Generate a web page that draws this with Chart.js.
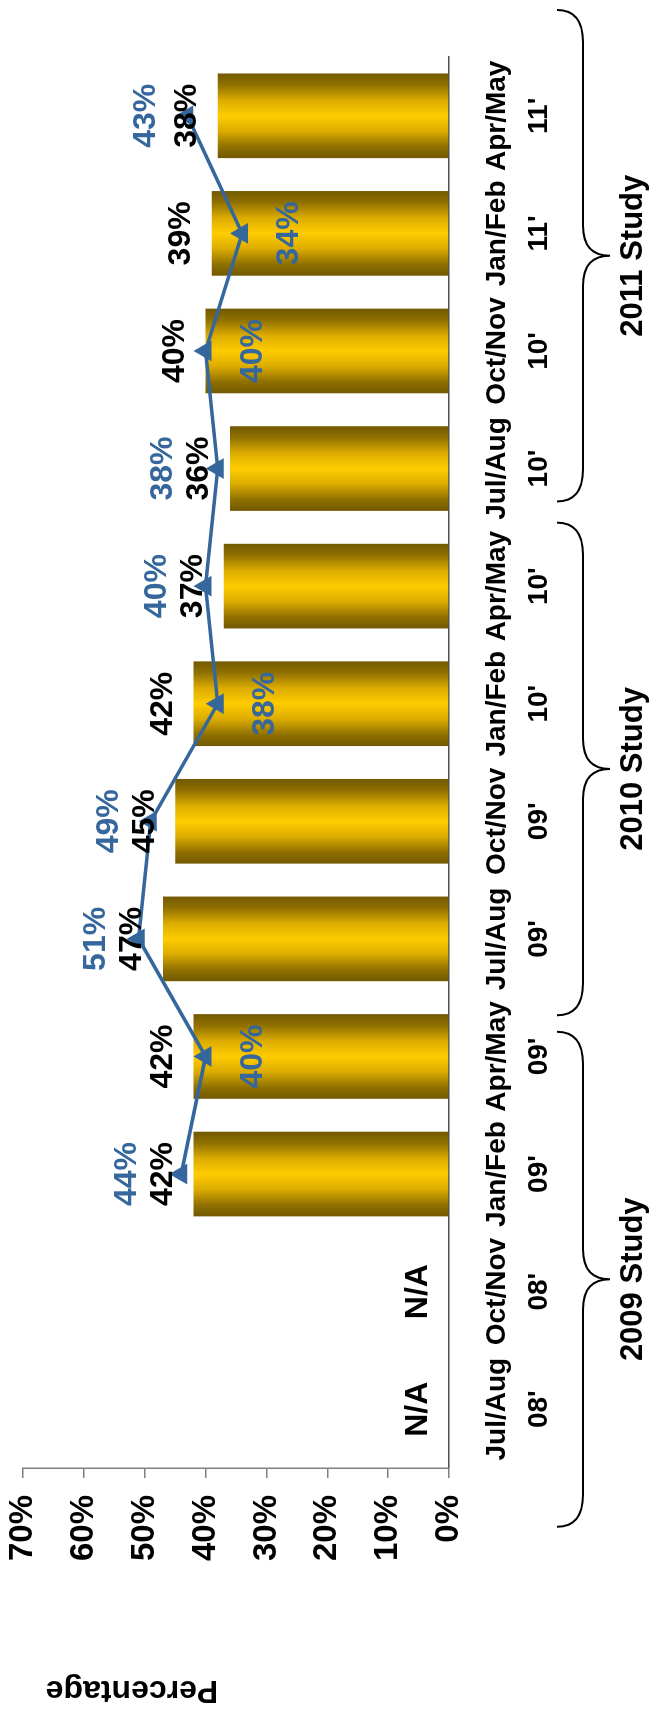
<!DOCTYPE html>
<html>
<head>
<meta charset="utf-8">
<title>Percentage by survey period</title>
<script src="https://cdn.jsdelivr.net/npm/chart.js@4.4.1/dist/chart.umd.min.js"></script>
<style>
  html, body { margin: 0; padding: 0; background: #fff; overflow: hidden; }
  body { width: 658px; height: 1718px; position: relative; }
  /* the chart is laid out landscape and turned a quarter turn to fit the page */
  #wrap {
    position: absolute; left: 0; top: 0;
    width: 1718px; height: 658px;
    transform-origin: 0 0;
    transform: translate(0, 1718px) rotate(-90deg);
  }
</style>
</head>
<body>
<div id="wrap"><canvas id="studyChart" width="1718" height="658"></canvas></div>
<script>
// survey periods and their years
const periods = ['Jul/Aug', 'Oct/Nov', 'Jan/Feb', 'Apr/May', 'Jul/Aug', 'Oct/Nov',
                 'Jan/Feb', 'Apr/May', 'Jul/Aug', 'Oct/Nov', 'Jan/Feb', 'Apr/May'];
const years = ["08'", "08'", "09'", "09'", "09'", "09'", "10'", "10'", "10'", "10'", "11'", "11'"];

// bar series (null = no data, shown as N/A)
const barValues = [null, null, 42, 42, 47, 45, 42, 37, 36, 40, 39, 38];
// line series
const lineValues = [null, null, 44, 40, 51, 49, 38, 40, 38, 40, 34, 43];

const yTicks = [0, 10, 20, 30, 40, 50, 60, 70];

// where each line label sits relative to its point
const lineLabelSide = [null, null, 'above', 'below', 'above', 'above', 'below', 'above', 'above', 'below', 'below', 'above'];

// study brackets, spans given as category index positions
const studyGroups = [
  { label: '2009 Study', from: -1.0, to: 3.21 },
  { label: '2010 Study', from: 3.35, to: 7.54 },
  { label: '2011 Study', from: 7.72, to: 11.9 }
];

const FONT = '"Liberation Sans", Arial, Helvetica, sans-serif';
const BLUE = '#35679c';

Chart.defaults.font.family = FONT;
Chart.defaults.font.weight = 'bold';
Chart.defaults.color = '#000';

function barGradient(c) {
  const chart = c.chart;
  if (!chart.chartArea || c.dataIndex === undefined) return '#ffcc00';
  const xs = chart.scales.x;
  const cx = xs.getPixelForValue(c.dataIndex);
  const half = xs.width / periods.length * 0.72 / 2;
  const g = chart.ctx.createLinearGradient(cx - half, 0, cx + half, 0);
  g.addColorStop(0, '#725900');
  g.addColorStop(0.13, '#8e6f00');
  g.addColorStop(0.32, '#dcac00');
  g.addColorStop(0.5, '#ffcc00');
  g.addColorStop(0.68, '#dcac00');
  g.addColorStop(0.87, '#8e6f00');
  g.addColorStop(1, '#725900');
  return g;
}

// value labels, study brackets and the axis title
const overlay = {
  id: 'overlay',
  afterDatasetsDraw(chart) {
    const { ctx, scales: { x, y } } = chart;
    const capHalf = 0.716 * 32 / 2;
    ctx.save();
    ctx.textAlign = 'center';
    ctx.textBaseline = 'alphabetic';
    ctx.font = 'bold 32px ' + FONT;
    periods.forEach((p, i) => {
      const cx = x.getPixelForValue(i);
      const bv = barValues[i];
      const top = y.getPixelForValue(bv === null ? 0 : bv);
      const blackMid = top - 33;
      ctx.fillStyle = '#000';
      ctx.fillText(bv === null ? 'N/A' : bv + '%', cx, blackMid + capHalf);
      const lv = lineValues[i];
      if (lv === null) return;
      const py = y.getPixelForValue(lv);
      const mid = lineLabelSide[i] === 'below' ? py + 44.5 : Math.min(py - 44, blackMid - 36);
      ctx.fillStyle = BLUE;
      ctx.fillText(lv + '%', cx, mid + capHalf);
    });

    // brackets under the period labels
    const base = chart.chartArea.bottom;
    const yEnd = base + 108, ySpine = base + 134, yTip = base + 161;
    ctx.strokeStyle = '#000';
    ctx.lineWidth = 2;
    ctx.fillStyle = '#000';
    ctx.font = 'bold 31px ' + FONT;
    studyGroups.forEach(g => {
      const x1 = x.getPixelForValue(g.from);
      const x2 = x.getPixelForValue(g.to);
      const xc = (x1 + x2) / 2;
      ctx.beginPath();
      ctx.moveTo(x1, yEnd);
      ctx.quadraticCurveTo(x1, ySpine, x1 + 32, ySpine);
      ctx.lineTo(xc - 30, ySpine);
      ctx.quadraticCurveTo(xc, ySpine, xc, yTip);
      ctx.quadraticCurveTo(xc, ySpine, xc + 30, ySpine);
      ctx.lineTo(x2 - 32, ySpine);
      ctx.quadraticCurveTo(x2, ySpine, x2, yEnd);
      ctx.stroke();
      ctx.fillText(g.label, xc, base + 193);
    });

    // value axis title
    ctx.font = 'bold 32px ' + FONT;
    ctx.translate(37, 132);
    ctx.rotate(-Math.PI / 2);
    ctx.fillText('Percentage', 0, 0);
    ctx.restore();
  }
};

new Chart(document.getElementById('studyChart'), {
  type: 'bar',
  data: {
    labels: periods.map((p, i) => [p, years[i]]),
    datasets: [
      {
        type: 'line',
        label: 'Line',
        data: lineValues,
        order: 0,
        borderColor: BLUE,
        borderWidth: 3.5,
        tension: 0,
        spanGaps: false,
        pointStyle: 'triangle',
        pointRadius: 12,
        pointBackgroundColor: BLUE,
        pointBorderColor: BLUE,
        pointBorderWidth: 0
      },
      {
        type: 'bar',
        label: 'Bar',
        data: barValues,
        order: 1,
        backgroundColor: barGradient,
        borderWidth: 0,
        categoryPercentage: 0.8,
        barPercentage: 0.9
      }
    ]
  },
  options: {
    responsive: false,
    animation: false,
    layout: { padding: { top: 23, right: 57, left: 0, bottom: 0 } },
    plugins: {
      legend: { display: false },
      tooltip: { enabled: false }
    },
    scales: {
      x: {
        grid: { display: false },
        border: { display: true, color: '#4d4d4d', width: 1.5 },
        ticks: {
          autoSkip: false,
          maxRotation: 0,
          padding: 19,
          color: '#000',
          font: { size: 28, weight: 'bold', lineHeight: 1.5 }
        },
        afterFit(scale) { scale.height = 209; scale.paddingLeft = 0; scale.paddingRight = 0; }
      },
      y: {
        min: 0,
        max: 70,
        afterBuildTicks(scale) { scale.ticks = yTicks.map(v => ({ value: v })); },
        grid: { display: true, drawOnChartArea: false, drawTicks: true, tickLength: 10, color: '#808080', lineWidth: 1.5 },
        border: { display: true, color: '#808080', width: 1.5 },
        ticks: {
          padding: 17,
          color: '#000',
          font: { size: 33, weight: 'bold' },
          callback: v => v + '%'
        },
        afterFit(scale) { scale.width = 250; scale.paddingTop = 0; scale.paddingBottom = 0; }
      }
    }
  },
  plugins: [overlay]
});
</script>
</body>
</html>
